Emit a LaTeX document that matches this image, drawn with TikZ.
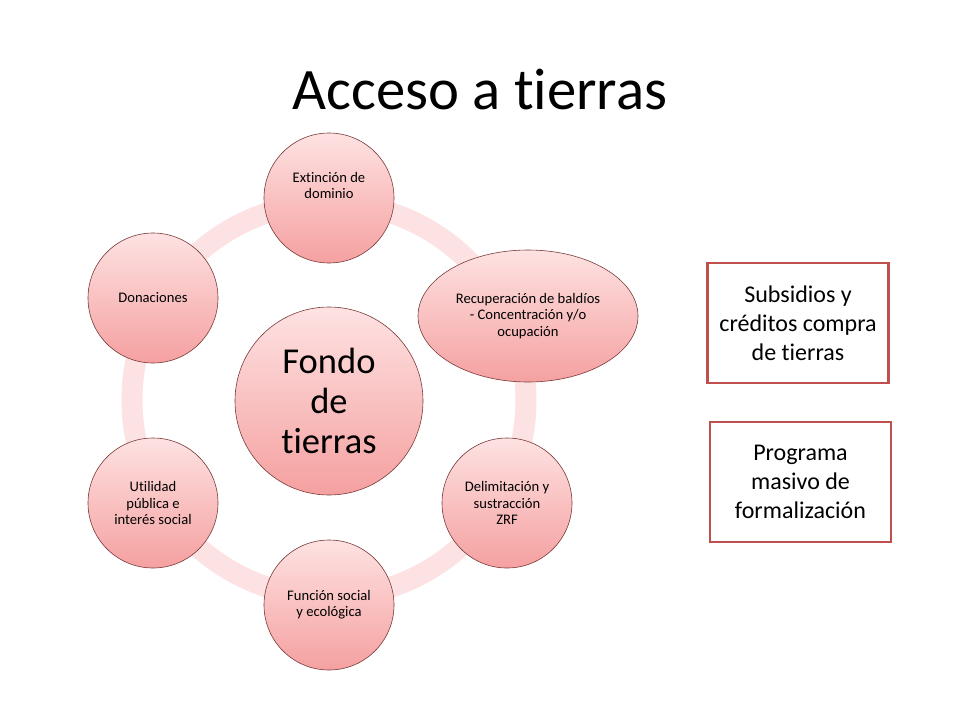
\documentclass[tikz,border=0pt]{standalone}
\usepackage{fontspec}
\setmainfont[Ligatures=NoCommon]{Carlito}
\usetikzlibrary{shapes.geometric}
\definecolor{ringc}{HTML}{FCE2E2}
\definecolor{topc}{HTML}{FEE2E2}
\definecolor{botc}{HTML}{F5A0A0}
\definecolor{edgec}{HTML}{7A3A3A}
\definecolor{boxc}{HTML}{C0504D}
\tikzset{
  sat/.style={circle, minimum size=130pt, inner sep=0pt, draw=edgec, line width=0.6pt,
    top color=topc, bottom color=botc, align=center,
    font=\fontsize{14.6}{16.2}\selectfont},
  satell/.style={ellipse, minimum width=220pt, minimum height=132pt, inner sep=0pt, draw=edgec, line width=0.6pt,
    top color=topc, bottom color=botc, align=center,
    font=\fontsize{14.6}{16.2}\selectfont},
  hub/.style={circle, minimum size=188pt, inner sep=0pt, draw=edgec, line width=0.6pt,
    top color=topc, bottom color=botc, align=center,
    font=\fontsize{36.5}{40}\selectfont},
  sidebox/.style={rectangle, draw=boxc, line width=2.5pt, fill=white, minimum width=181pt,
    minimum height=120pt, align=center, font=\fontsize{24}{29}\selectfont}
}
\begin{document}
\begin{tikzpicture}[x=1pt,y=-1pt]
\useasboundingbox (0,0) rectangle (960,720);
\node (title) at (480,90) {\fontsize{58.7}{70}\selectfont Acceso a tierras};
\draw[ringc, line width=21pt] (329,400) circle[radius=197];
\node[hub] (hub) at (329,401) {Fondo\\de\\tierras};
\node[sat] (ext) at (329,198) {Extinción de\\dominio\\[9pt]};
\node[satell] (rec) at (528,316) {Recuperación de baldíos\\- Concentración y/o\\ocupación};
\node[sat] (del) at (507,503) {Delimitación y\\sustracción\\ZRF};
\node[sat] (fun) at (329,605) {Función social\\y ecológica};
\node[sat] (uti) at (153,503) {Utilidad\\pública e\\interés social};
\node[sat] (don) at (153,298) {Donaciones};
\node[sidebox] (sub) at (798,323) {Subsidios y\\créditos compra\\de tierras};
\node[sidebox] (pro) at (800.5,482) {Programa\\masivo de\\formalización};
\end{tikzpicture}
\end{document}
